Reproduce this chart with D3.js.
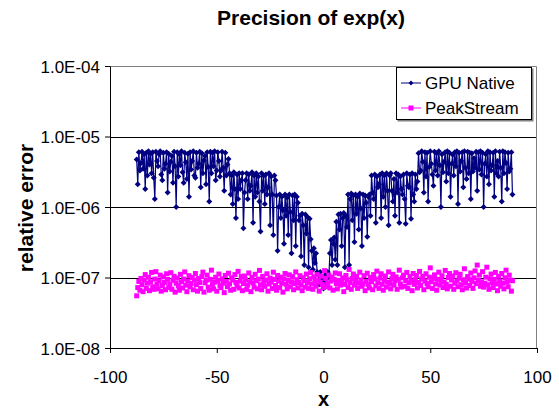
<!DOCTYPE html>
<html>
<head>
<meta charset="utf-8">
<script src="https://cdn.jsdelivr.net/npm/d3@7"></script>
<style>
  body { margin: 0; background: #fff; }
  text { font-family: "Liberation Sans", Arial, sans-serif; }
</style>
</head>
<body>
<div id="chart-area"></div>
<script>
var mwidth = 559;
var mheight = 411;
var margin = {top: 66, right: 22, bottom: 63, left: 110};
var width = mwidth - margin.left - margin.right;
var height = mheight - margin.top - margin.bottom;

var seriesNames = ["GPU Native", "PeakStream"];
var xTicks = [-100, -50, 0, 50, 100];
var yTicks = [1e-8, 1e-7, 1e-6, 1e-5, 1e-4];
var yTickLabels = ["1.0E-08", "1.0E-07", "1.0E-06", "1.0E-05", "1.0E-04"];

// x sampling grid, -87.5 .. 88.5 every 0.5
var xValues = d3.range(-87.5, 88.75, 0.5);

// GPU Native relative error, in units of 1e-8
var gpuNative = [
  470,210,600,330,420,610,350,560,180,590, 280,620,400,570,300,600,260,130,610,450,
  380,560,620,290,240,590,350,410,600,160, 570,320,440,530,220,610,380,100,600,270,
  560,390,620,310,220,590,430,250,570,140, 600,340,450,620,280,260,590,360,410,610,
  190,580,300,460,530,210,600,370,120,610, 300,590,380,620,240,330,600,450,270,330,
  610,360,170,590,280,400,480,
  300,150,280,110,310,180,70,290,130,300, 180,240,300,50,160,240,300,130,290,170,
  200,310,60,280,140,300,160,270,120,45, 300,170,280,110,290,150,190,300,55,270,
  150,40,280,240,
  145,24,100,150,70,140,90,30,150,75, 135,40,150,85,22,145,65,150,28,140, 115,65,
  75,20,80,55,15,78,42,72,14,68,35,
  24,13,26,16,22,12,
  11,8,12,9,10,7,
  9,11,8,12,10,
  22,34,15,30,37,18,
  62,15,78,48,80,28,70,82,14,75,52,
  150,15,130,155,65,145,32,150,80,140, 48,155,95,28,150,70,145,115,38,140, 150,75,
  280,160,130,290,60,270,190,210,290,70, 300,140,280,100,300,170,55,280,300,170,
  120,250,75,300,160,290,60,270,180,150, 290,130,58,300,200,190,290,68,300,150,
  120,290,180,230,
  580,310,330,620,440,160,600,270,590,120, 370,620,410,290,200,610,330,580,280,620,
  390,100,560,310,440,600,230,620,300,590, 140,410,550,280,600,380,620,110,590,320,
  450,600,190,620,360,250,610,300,590,130, 580,320,490,360,610,170,600,340,620,290,
  590,100,410,560,270,620,210,600,330,390, 590,140,620,300,450,270,610,360,120,620,
  300,600,420,180,590,320,350,600,150
];

// PeakStream relative error, in units of 1e-9
var peakStream = [
  55,72,88,66,97,79,63,92,110,70,83,101,65,87,118,74,68,95,121,80,
  69,90,108,64,77,102,85,67,113,94,72,80,117,68,91,104,62,83,98,76,
  66,111,87,71,95,120,78,63,89,106,74,82,100,67,92,114,79,64,97,85,
  70,103,119,62,84,91,108,73,66,94,127,80,69,86,101,64,90,112,77,72,
  96,83,61,107,88,74,115,81,66,99,92,68,110,85,76,122,71,89,103,65,
  82,105,93,68,78,116,87,63,100,84,73,111,90,69,95,126,79,67,104,88,
  75,92,113,64,81,98,86,70,119,94,77,66,107,89,72,101,83,62,96,114,
  80,69,91,109,74,87,103,67,82,120,93,71,85,106,78,65,99,90,73,112,
  84,70,96,118,81,68,102,88,75,110,92,64,86,105,79,72,125,97,74,83,
  108,71,89,101,66,94,116,82,69,91,113,78,86,99,63,80,107,93,72,130,
  85,68,97,112,78,90,104,70,83,119,92,75,81,106,65,88,115,79,71,100,
  87,67,110,95,76,123,84,70,98,113,80,66,91,105,73,86,120,82,69,96,
  111,78,90,102,68,94,127,81,73,99,108,75,90,118,70,84,103,88,65,114,
  80,93,107,71,85,122,77,95,104,67,89,113,82,74,101,137,87,70,97,109,
  81,66,94,119,78,91,106,72,86,126,80,69,100,114,75,92,105,68,83,117,
  89,74,98,111,79,67,93,133,84,71,103,95,77,116,88,70,99,124,82,150,
  91,108,75,87,121,73,83,101,140,79,68,96,112,85,72,94,118,81,65,104,
  88,75,114,83,69,99,127,86,74,108,92,64,90
];

var gpuData = xValues.map(function(x, i) { return {x: x, y: gpuNative[i] * 1e-8}; });
var peakData = xValues.map(function(x, i) { return {x: x, y: peakStream[i] * 1e-9}; });

var svg = d3.select("#chart-area").append("svg")
  .attr("width", mwidth)
  .attr("height", mheight);

var g = svg.append("g")
  .attr("transform", "translate(" + margin.left + ", " + margin.top + ")");

var x = d3.scaleLinear().domain([-100, 100]).range([0, width]);
var y = d3.scaleLog().domain([1e-8, 1e-4]).range([height, 0]);

svg.append("text")
  .attr("x", 311)
  .attr("y", 25)
  .attr("text-anchor", "middle")
  .attr("font-size", "21px")
  .attr("font-weight", "bold")
  .text("Precision of exp(x)");

// gridlines
g.selectAll(".grid").data(yTicks.slice(1, 4)).enter().append("line")
  .attr("class", "grid")
  .attr("x1", 0).attr("x2", width)
  .attr("y1", function(d) { return Math.round(y(d)) + 0.5; })
  .attr("y2", function(d) { return Math.round(y(d)) + 0.5; })
  .attr("stroke", "#000");

// plot border top / right
g.append("path")
  .attr("d", "M0.5,0.5H" + (width - 0.5) + "V" + height)
  .attr("fill", "none")
  .attr("stroke", "#808080");

var yAxis = d3.axisLeft(y)
  .tickValues(yTicks)
  .tickSize(5)
  .tickFormat(function(d, i) { return yTickLabels[i]; });

var xAxis = d3.axisBottom(x)
  .tickValues(xTicks)
  .tickSize(5)
  .tickFormat(function(d) { return String(d); });

var yAxisGroup = g.append("g").call(yAxis);
var xAxisGroup = g.append("g")
  .attr("transform", "translate(0, " + height + ")")
  .call(xAxis);

[yAxisGroup, xAxisGroup].forEach(function(ax) {
  ax.select(".domain").attr("stroke", "#000");
  ax.selectAll(".tick line").attr("stroke", "#000");
  ax.selectAll(".tick text")
    .attr("font-size", "17px")
    .attr("font-family", "Liberation Sans, Arial, sans-serif")
    .attr("fill", "#000");
});
yAxisGroup.selectAll(".tick text").attr("x", -10).attr("dy", "0.36em");
xAxisGroup.selectAll(".tick text").attr("y", 35).attr("dy", null);

// GPU Native: line + diamonds
var line = d3.line()
  .x(function(d) { return x(d.x); })
  .y(function(d) { return y(d.y); });

g.append("path")
  .datum(gpuData)
  .attr("d", line)
  .attr("fill", "none")
  .attr("stroke", "#000080")
  .attr("stroke-width", 1.2);

var diamond = d3.symbol().type(d3.symbolSquare).size(18);

g.selectAll(".gpu").data(gpuData).enter().append("path")
  .attr("class", "gpu")
  .attr("transform", function(d) { return "translate(" + x(d.x) + "," + y(d.y) + ") rotate(45)"; })
  .attr("d", diamond)
  .attr("fill", "#000080");

// PeakStream: squares
var sq = 5;
g.selectAll(".peak").data(peakData).enter().append("rect")
  .attr("class", "peak")
  .attr("x", function(d) { return x(d.x) - sq / 2; })
  .attr("y", function(d) { return y(d.y) - sq / 2; })
  .attr("width", sq)
  .attr("height", sq)
  .attr("fill", "#ff00ff");

// axis titles
svg.append("text")
  .attr("transform", "translate(33, 208) rotate(-90)")
  .attr("text-anchor", "middle")
  .attr("font-size", "21px")
  .attr("font-weight", "bold")
  .text("relative error");

svg.append("text")
  .attr("x", margin.left + width / 2)
  .attr("y", 406)
  .attr("text-anchor", "middle")
  .attr("font-size", "20px")
  .attr("font-weight", "bold")
  .text("x");

// legend
var legend = svg.append("g").attr("transform", "translate(396, 67)");
legend.append("rect")
  .attr("x", 1.5).attr("y", 1.5)
  .attr("width", 136).attr("height", 53)
  .attr("fill", "#808080");
legend.append("rect")
  .attr("x", 0.5).attr("y", 0.5)
  .attr("width", 135).attr("height", 52)
  .attr("fill", "#fff")
  .attr("stroke", "#000");

var colors = ["#000080", "#ff00ff"];
seriesNames.forEach(function(name, i) {
  var ly = 16 + i * 25;
  legend.append("line")
    .attr("x1", 5).attr("x2", 25)
    .attr("y1", ly).attr("y2", ly)
    .attr("stroke", colors[i]);
  if (i == 0) {
    legend.append("path")
      .attr("transform", "translate(15," + ly + ") rotate(45)")
      .attr("d", d3.symbol().type(d3.symbolSquare).size(12))
      .attr("fill", colors[i]);
  } else {
    legend.append("rect")
      .attr("x", 15 - sq / 2).attr("y", ly - sq / 2)
      .attr("width", sq).attr("height", sq)
      .attr("fill", colors[i]);
  }
  legend.append("text")
    .attr("x", 29)
    .attr("y", ly)
    .attr("dy", "0.36em")
    .attr("font-size", "17px")
    .text(name);
});
</script>
</body>
</html>
